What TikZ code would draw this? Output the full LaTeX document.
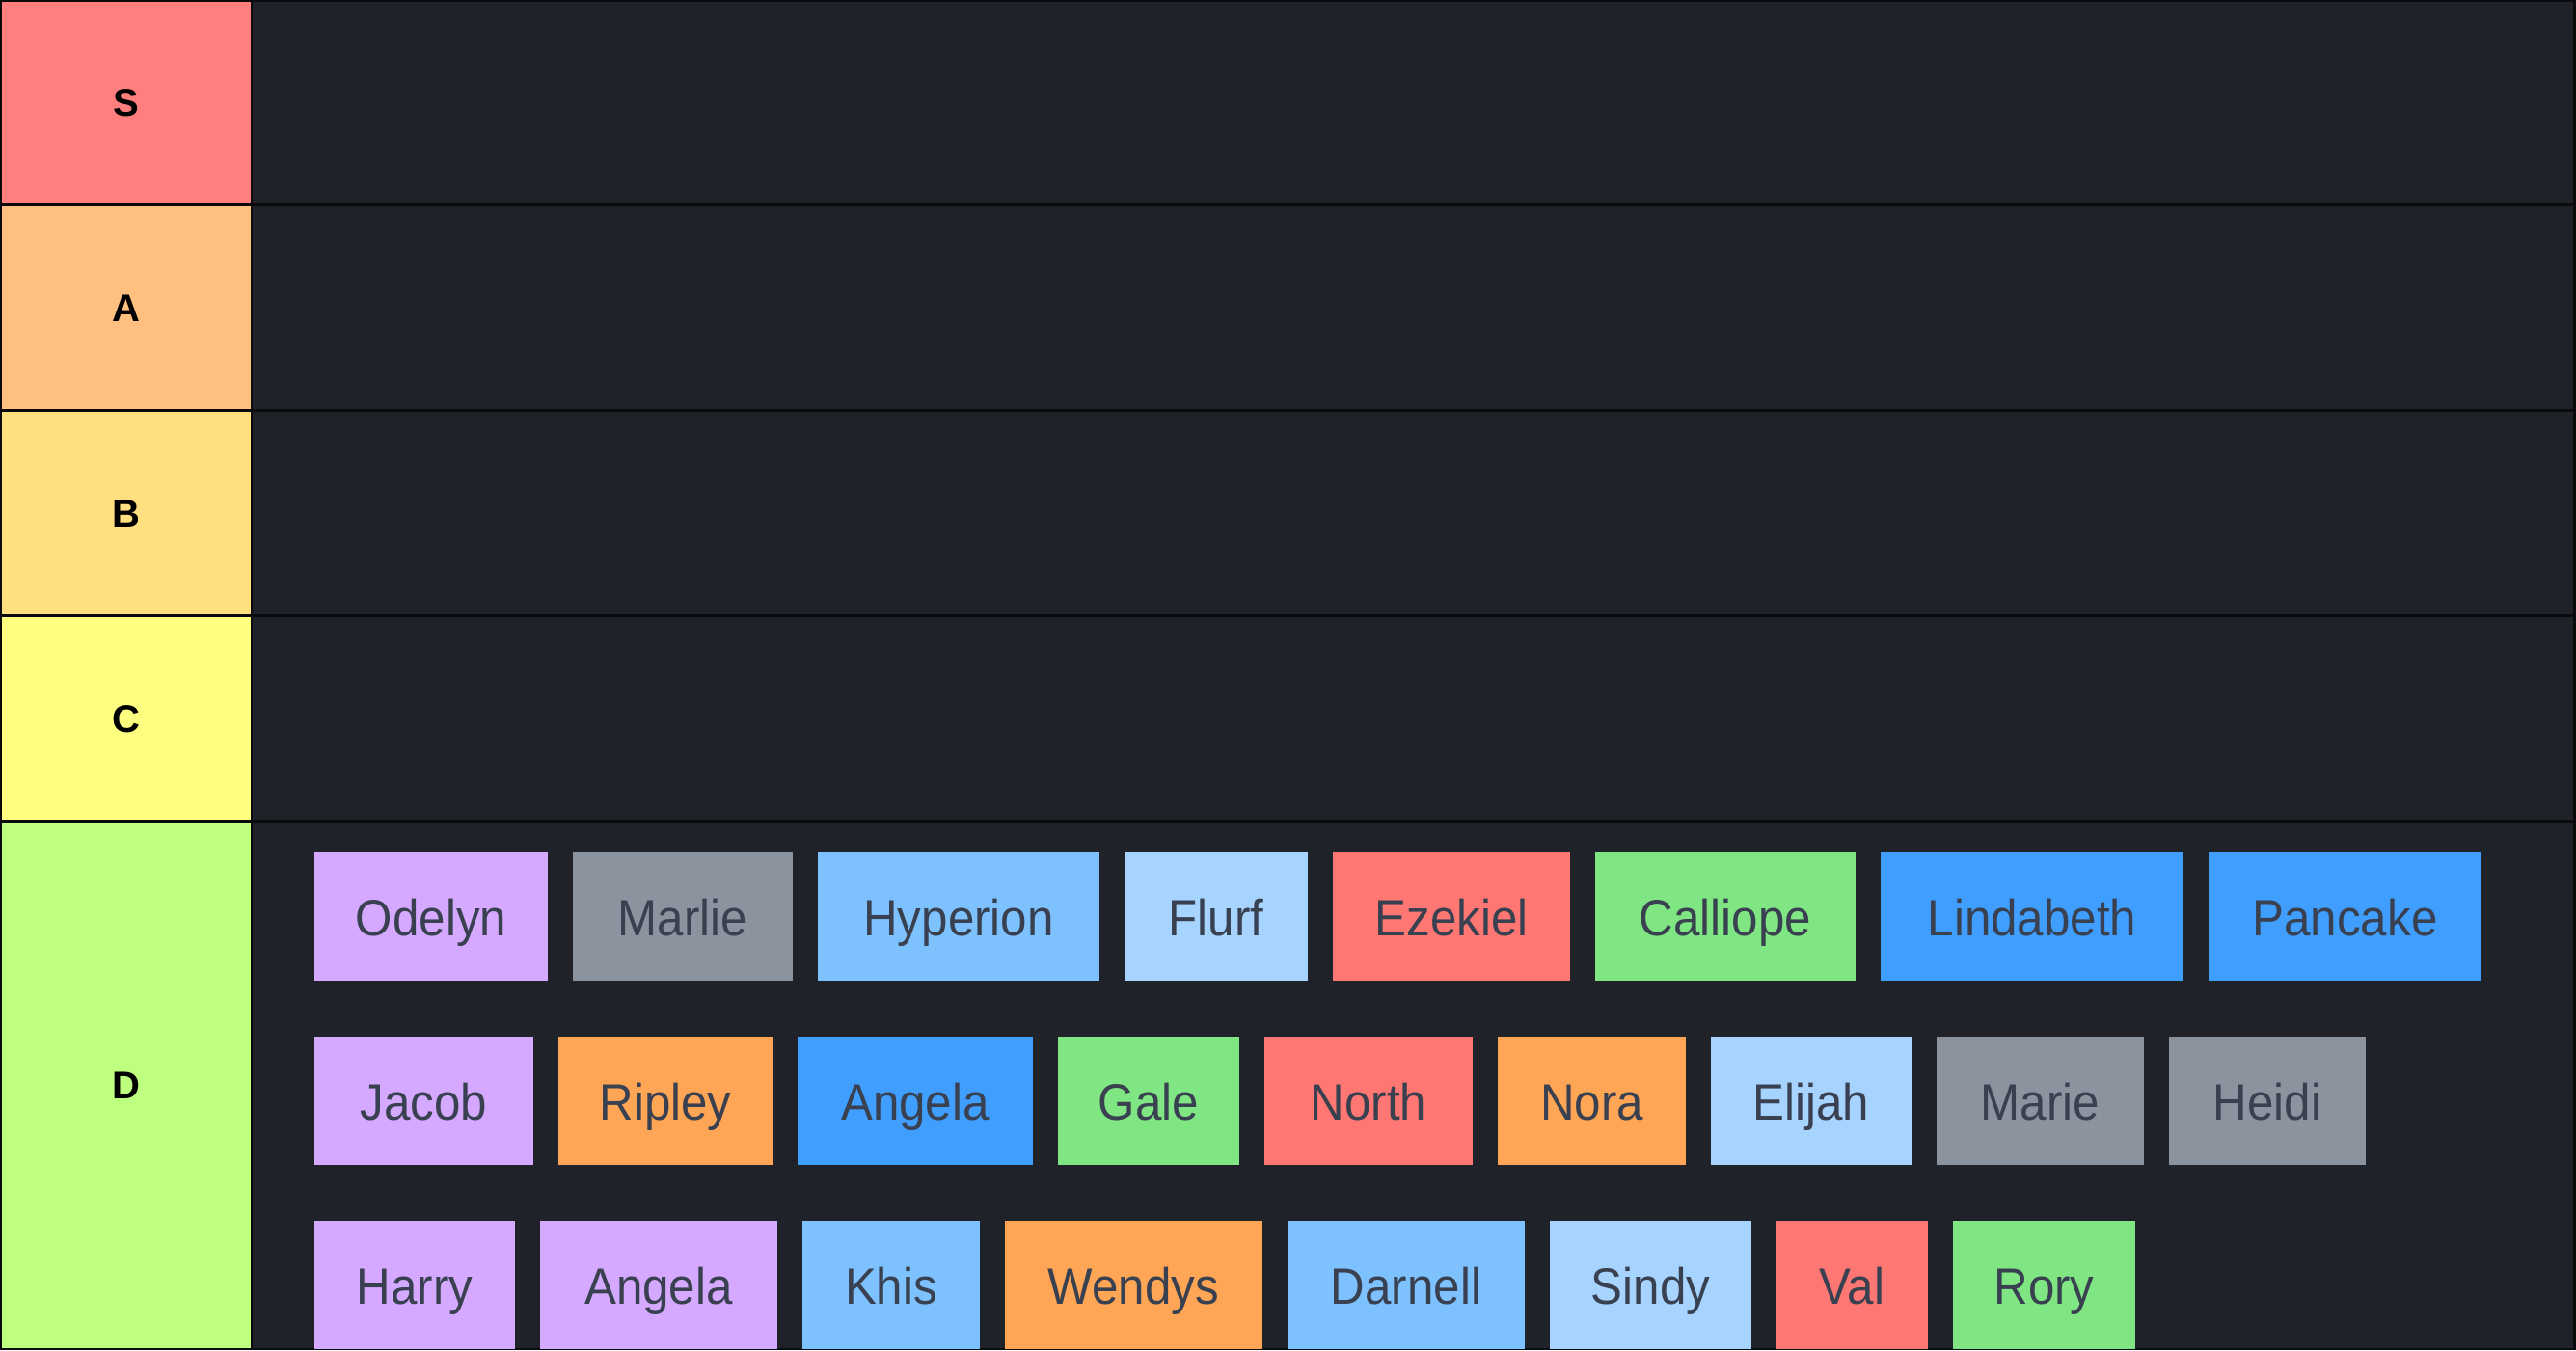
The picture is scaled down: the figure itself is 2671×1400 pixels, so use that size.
\documentclass[tikz,border=0pt]{standalone}
\usepackage{fontspec}
\setmainfont{Liberation Sans}
\newfontfamily\tilefont[FakeStretch=0.93]{Liberation Sans}
\definecolor{tierS}{HTML}{FF7F7F}
\definecolor{tierA}{HTML}{FFBF7F}
\definecolor{tierB}{HTML}{FFDF7F}
\definecolor{tierC}{HTML}{FFFF7F}
\definecolor{tierD}{HTML}{BFFF7F}
\definecolor{rowbg}{HTML}{20222A}
\definecolor{edge}{HTML}{0A0A0C}
\definecolor{tiletext}{HTML}{394050}
\definecolor{cpurple}{HTML}{D4A9FF}
\definecolor{cgray}{HTML}{8A939E}
\definecolor{clblue}{HTML}{7DC1FF}
\definecolor{cpblue}{HTML}{A6D4FF}
\definecolor{cred}{HTML}{FF7772}
\definecolor{cgreen}{HTML}{80E683}
\definecolor{cblue}{HTML}{409EFF}
\definecolor{corange}{HTML}{FFA556}
\begin{document}
\begin{tikzpicture}[x=1pt,y=-1pt,
  tierlabel/.style={font=\fontsize{40}{46}\selectfont\bfseries, text=black, anchor=base, inner sep=0pt},
  tile/.style={font=\tilefont\fontsize{53}{60}\selectfont, text=tiletext, anchor=base, inner sep=0pt}]
\useasboundingbox (0,0) rectangle (2671,1400);
\fill[edge] (0,0) rectangle (2671,1400);
% rows
\foreach \name/\col/\ya/\yb in {S/tierS/2/211, A/tierA/214/424, B/tierB/427/637, C/tierC/640/850, D/tierD/853/1398}{
  \fill[\col] (2,\ya) rectangle (260,\yb);
  \fill[rowbg] (262,\ya) rectangle (2668,\yb);
  \node[tierlabel] (lab\name) at (131,{(\ya+\yb)/2+14}) {\name};
}
% tiles
\newcommand{\tileat}[5]{% name, color, x0, x1, row y0
  \fill[#2] (#3,#5) rectangle (#4,{#5+133});
  \node[tile] (t#1) at ({(#3+#4)/2},{#5+86}) {#1};
}
\begin{scope}
\clip (262,853) rectangle (2668,1398);
\tileat{Odelyn}{cpurple}{326}{568}{884}
\tileat{Marlie}{cgray}{594}{822}{884}
\tileat{Hyperion}{clblue}{848}{1140}{884}
\tileat{Flurf}{cpblue}{1166}{1356}{884}
\tileat{Ezekiel}{cred}{1382}{1628}{884}
\tileat{Calliope}{cgreen}{1654}{1924}{884}
\tileat{Lindabeth}{cblue}{1950}{2264}{884}
\tileat{Pancake}{cblue}{2290}{2573}{884}
%
\tileat{Jacob}{cpurple}{326}{553}{1075}
\tileat{Ripley}{corange}{579}{801}{1075}
\tileat{Angela}{cblue}{827}{1071}{1075}
\tileat{Gale}{cgreen}{1097}{1285}{1075}
\tileat{North}{cred}{1311}{1527}{1075}
\tileat{Nora}{corange}{1553}{1748}{1075}
\tileat{Elijah}{cpblue}{1774}{1982}{1075}
\tileat{Marie}{cgray}{2008}{2223}{1075}
\tileat{Heidi}{cgray}{2249}{2453}{1075}
%
\tileat{Harry}{cpurple}{326}{534}{1266}
\fill[cpurple] (560,1266) rectangle (806,1399);
\node[tile] (tAngelaB) at (683,1352) {Angela};
\tileat{Khis}{clblue}{832}{1016}{1266}
\tileat{Wendys}{corange}{1042}{1309}{1266}
\tileat{Darnell}{clblue}{1335}{1581}{1266}
\tileat{Sindy}{cpblue}{1607}{1816}{1266}
\tileat{Val}{cred}{1842}{1999}{1266}
\tileat{Rory}{cgreen}{2025}{2214}{1266}
\end{scope}
\end{tikzpicture}
\end{document}
